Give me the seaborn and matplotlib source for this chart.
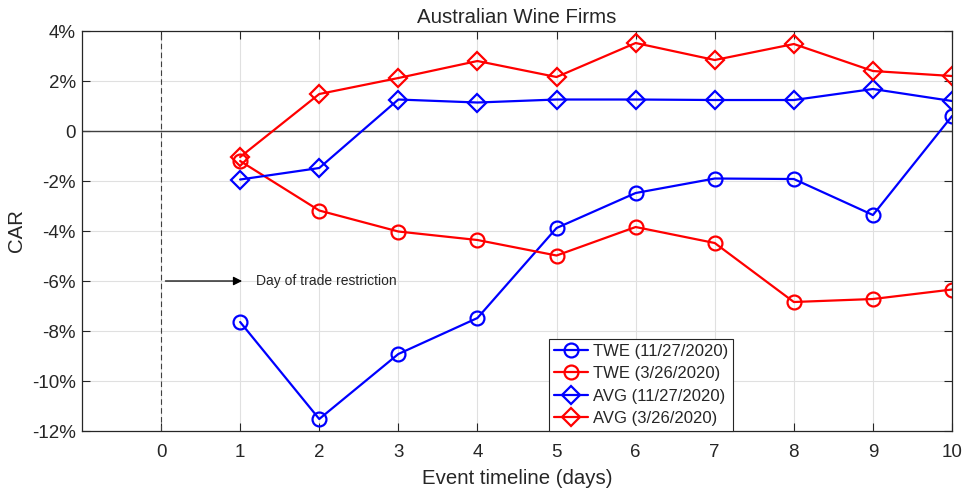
import matplotlib

matplotlib.use("Agg")

import matplotlib.pyplot as plt
import pandas as pd
import seaborn as sns
from matplotlib.ticker import FuncFormatter

# Event days and cumulative abnormal returns (in %)
days = [1, 2, 3, 4, 5, 6, 7, 8, 9, 10]
twe_nov = [-7.64, -11.52, -8.92, -7.48, -3.88, -2.48, -1.90, -1.92, -3.36, 0.60]
twe_mar = [-1.20, -3.18, -4.02, -4.36, -4.98, -3.84, -4.48, -6.84, -6.72, -6.34]
avg_nov = [-1.94, -1.48, 1.26, 1.14, 1.26, 1.26, 1.24, 1.24, 1.68, 1.20]
avg_mar = [-1.04, 1.48, 2.12, 2.80, 2.16, 3.52, 2.84, 3.48, 2.40, 2.20]

series_names = ["TWE (11/27/2020)", "TWE (3/26/2020)", "AVG (11/27/2020)", "AVG (3/26/2020)"]
series_values = [twe_nov, twe_mar, avg_nov, avg_mar]
series_colors = ["#0000ff", "#ff0000", "#0000ff", "#ff0000"]
series_markers = ["o", "o", "D", "D"]

x_ticks = list(range(0, 11))
y_ticks = [4, 2, 0, -2, -4, -6, -8, -10, -12]

sns.set_style("ticks")
plt.rcParams["font.family"] = ["Liberation Sans", "DejaVu Sans"]

fig = plt.figure(figsize=(9.64, 4.9), dpi=100)
ax = fig.add_axes([0.085, 0.1204, 0.9026, 0.8163])

for name, vals, col, mk in zip(series_names, series_values, series_colors, series_markers):
    df = pd.DataFrame({"day": days, "car": vals})
    sns.lineplot(
        data=df,
        x="day",
        y="car",
        ax=ax,
        color=col,
        marker=mk,
        markersize=10 if mk == "o" else 9,
        markerfacecolor="none",
        markeredgecolor=col,
        markeredgewidth=1.6,
        linewidth=1.6,
        label=name,
    )

ax.set_xlim(-1, 10)
ax.set_ylim(-12, 4)
ax.set_xticks(x_ticks)
ax.set_yticks(y_ticks)
ax.yaxis.set_major_formatter(FuncFormatter(lambda v, _: "0" if v == 0 else f"{v:g}%"))
ax.grid(True, color="#e0e0e0", linewidth=0.8)
ax.set_axisbelow(True)
ax.tick_params(direction="in", top=True, right=True, labelsize=13.5, colors="#262626",
               length=6, width=0.8)
ax.tick_params(axis="x", pad=9)
ax.tick_params(axis="y", pad=4.5)
for sp in ax.spines.values():
    sp.set_color("#262626")
    sp.set_linewidth(0.9)

ax.axhline(0, color="#404040", linewidth=1.0, zorder=1)
ax.axvline(0, color="#404040", linewidth=0.8, linestyle=(0, (5, 3)), zorder=1)

ax.annotate("", xy=(1.06, -6), xytext=(0.02, -6),
            arrowprops=dict(arrowstyle="-|>", color="black", lw=0.9,
                            mutation_scale=13))
ax.text(1.2, -6, "Day of trade restriction", fontsize=10, va="center", ha="left")

ax.set_title("Australian Wine Firms", fontsize=14.7, pad=6)
ax.set_xlabel("Event timeline (days)", fontsize=14.7, color="#262626", labelpad=6)
ax.set_ylabel("CAR", fontsize=14.7, color="#262626")
ax.yaxis.set_label_coords(-0.064, 0.5)

leg = ax.legend(loc="lower left", bbox_to_anchor=(0.537, 0.0), fontsize=12,
                frameon=True, fancybox=False, framealpha=1, borderaxespad=0,
                handlelength=2.0, handletextpad=0.3, labelspacing=0.45,
                borderpad=0.3)
leg.get_frame().set_edgecolor("#262626")
leg.get_frame().set_linewidth(0.8)

fig.savefig("out.png", dpi=100)
